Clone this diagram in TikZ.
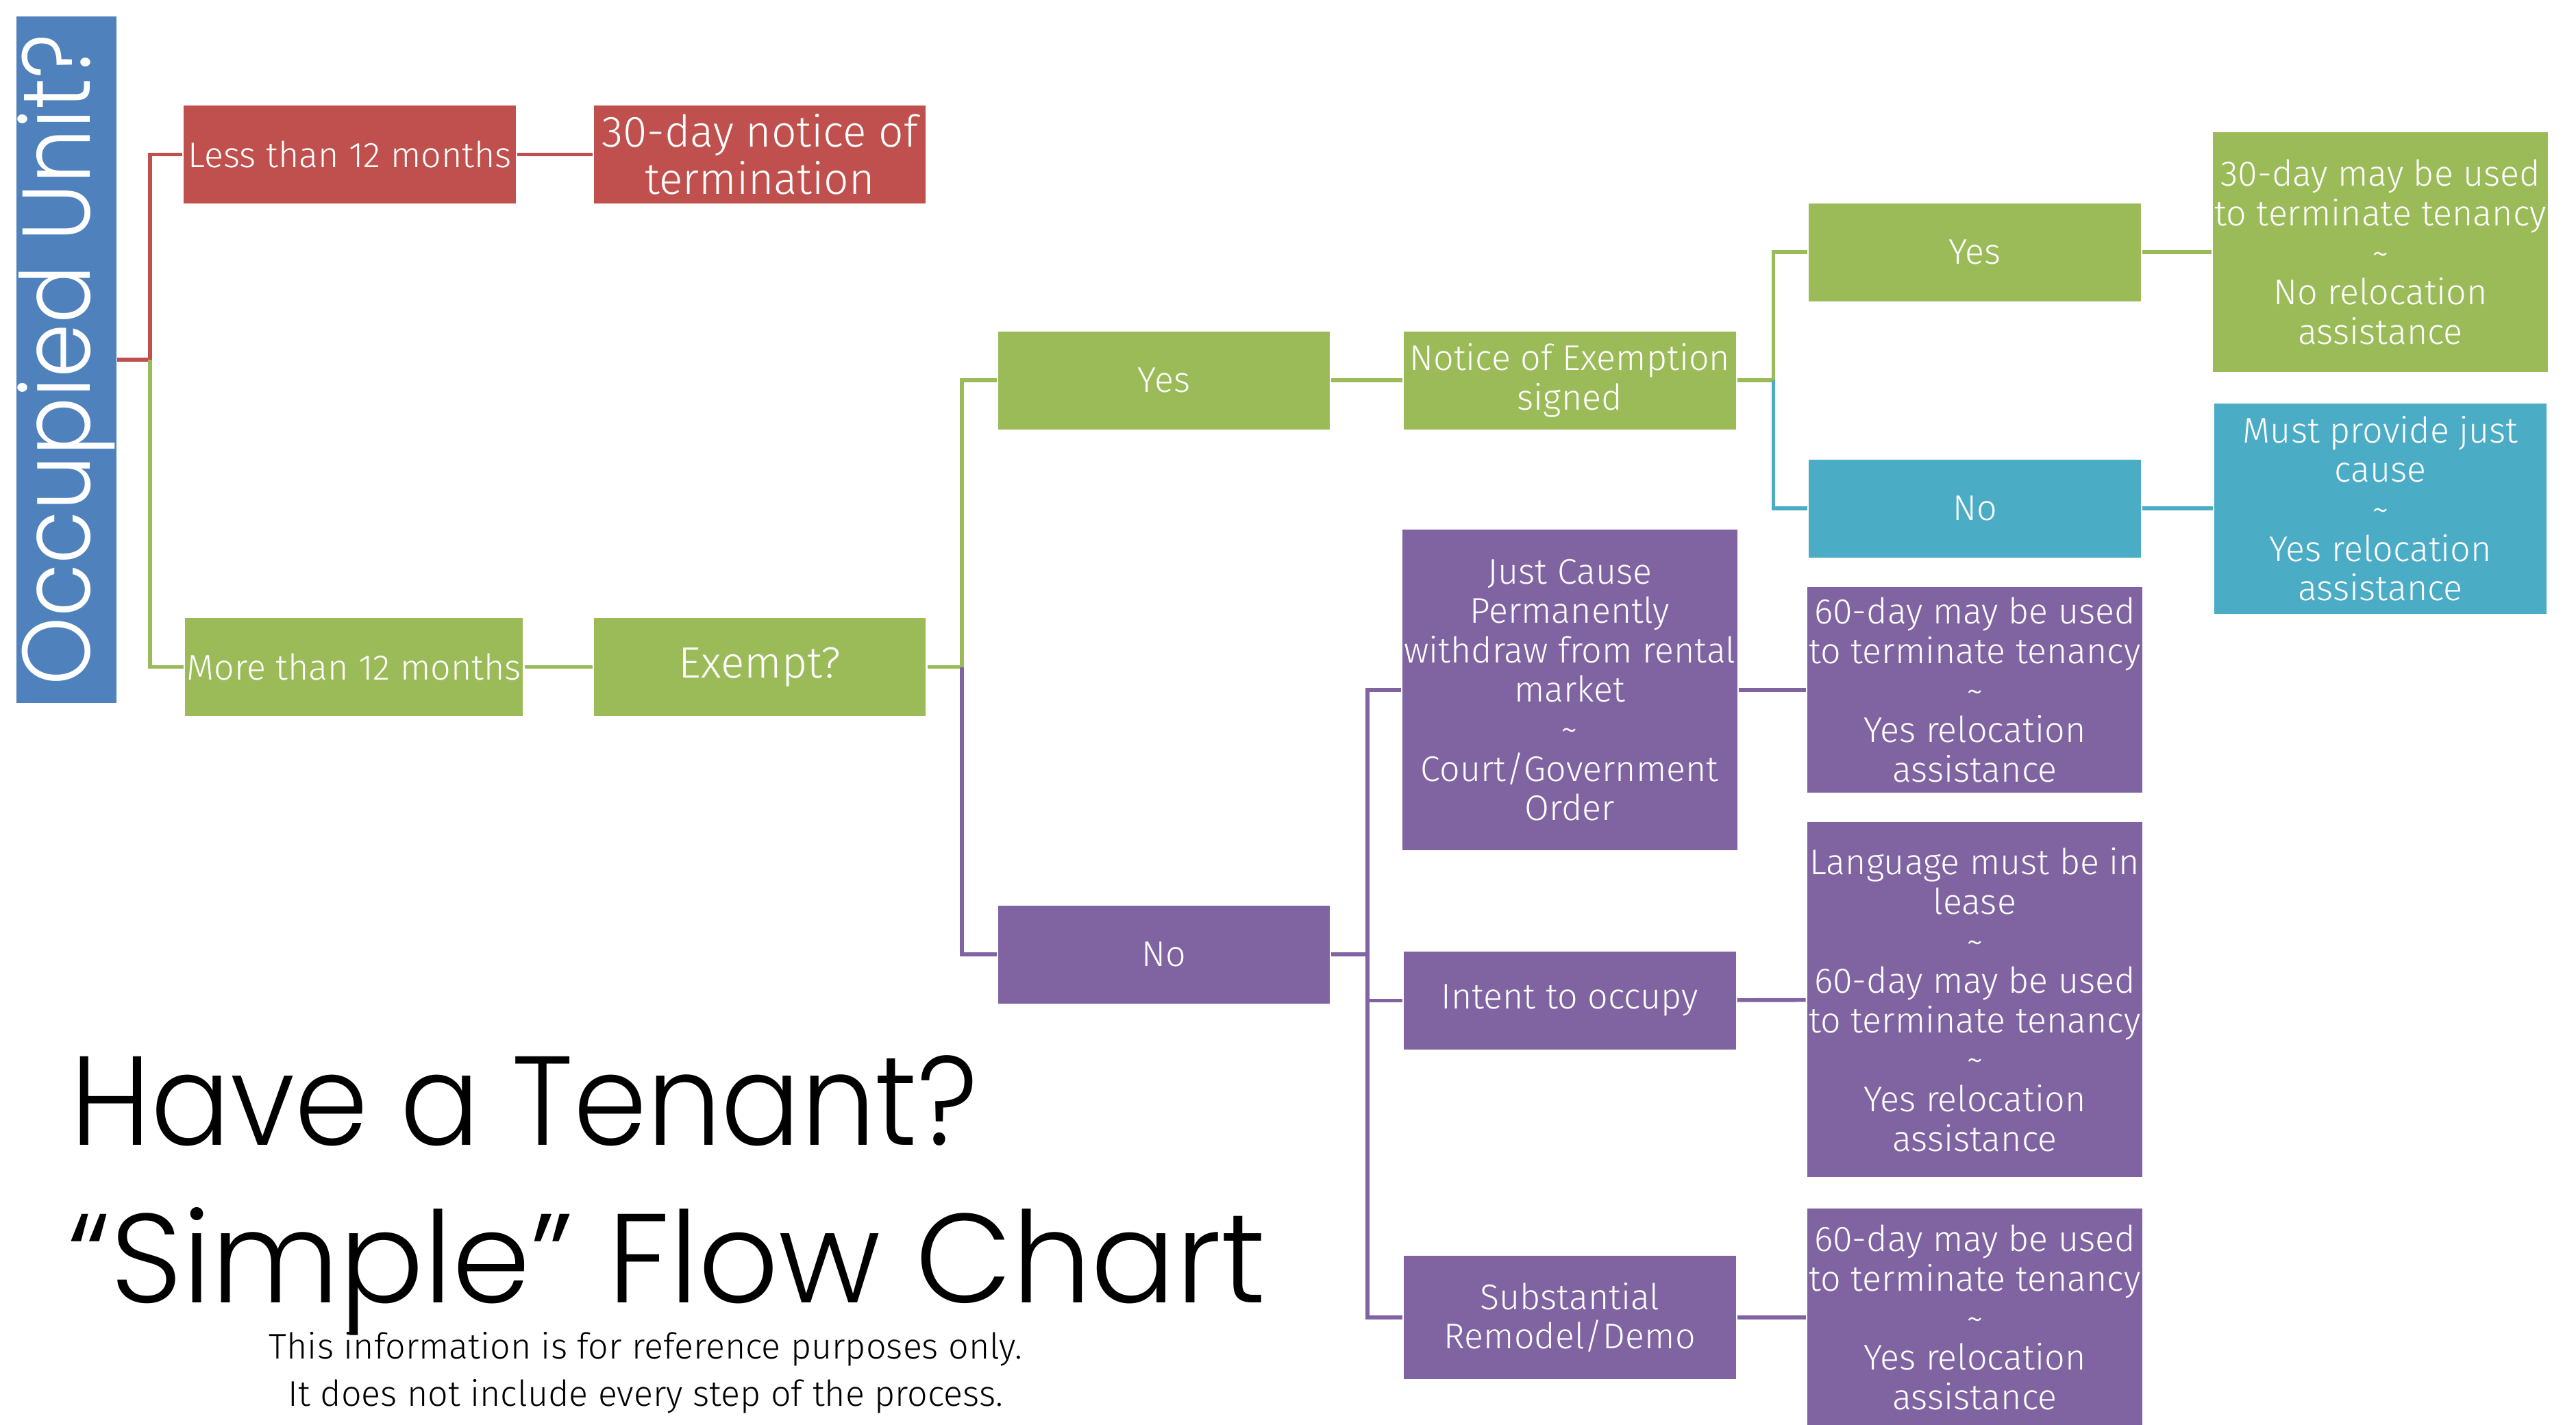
\documentclass[tikz,border=0pt]{standalone}
\usepackage{fontspec}
\setmainfont{Fira Sans}[UprightFont=* Light]
\newfontfamily\headfont{Poppins}[UprightFont=* Light,FakeStretch=0.93]
\newfontfamily\subheadfont{Poppins}[UprightFont=* Light,FakeStretch=0.99]
\newfontfamily\barfont{Poppins}[UprightFont=* Light,FakeStretch=0.9]
\definecolor{redbox}{HTML}{C0504D}
\definecolor{greenbox}{HTML}{9BBB59}
\definecolor{purplebox}{HTML}{8064A2}
\definecolor{bluebox}{HTML}{4BACC6}
\definecolor{barblue}{HTML}{4F81BD}
\newcommand{\pu}{0.2398mm}
\begin{document}
\begin{tikzpicture}
    [
    x=0.2398mm, y=-0.2398mm,
    box/.style={draw=white, line width=0.6pt, text=white, align=center, inner sep=1pt,
      minimum width=203*\pu, minimum height=60.5*\pu, font=\fontsize{14.8}{16.4}\selectfont},
    bigtext/.style={font=\fontsize{18.2}{19.8}\selectfont},
    red/.style={box, fill=redbox},
    green/.style={box, fill=greenbox},
    purple/.style={box, fill=purplebox},
    blue/.style={box, fill=bluebox},
    redline/.style={draw=redbox, line width=1.6pt},
    greenline/.style={draw=greenbox, line width=1.6pt},
    purpleline/.style={draw=purplebox, line width=1.6pt},
    blueline/.style={draw=bluebox, line width=1.6pt}
    ]
    \useasboundingbox (0,0) rectangle (1568,867);
    \node (occ) at (40.5,219) [fill=barblue, minimum width=61*\pu, minimum height=418*\pu, inner sep=0pt] {};
    \node at (occ.center) [rotate=90, text=white, inner sep=0pt, font=\barfont\fontsize{40}{44}\selectfont] {Occupied Unit?};
    \node (less) at (213,94) [red] {Less than 12 months};
    \node (notice30) at (462.5,94) [red, bigtext] {30-day notice of\\termination};
    \node (more) at (215.5,406) [green] {More than 12 months};
    \node (exempt) at (462.5,406) [green, bigtext] {Exempt?};
    \node (yes1) at (708.5,231.5) [green] {Yes};
    \node (no1) at (708.5,581) [purple] {No};
    \node (noe) at (955.5,231.5) [green] {Notice of Exemption\\signed};
    \node (yes2) at (1202,153.5) [green] {Yes};
    \node (no2) at (1202,309.5) [blue] {No};
    \node (res30) at (1449,153.5) [green, minimum height=147*\pu] {30-day may be used\\to terminate tenancy\\\textasciitilde\\No relocation\\assistance};
    \node (resjust) at (1449,309.5) [blue, minimum height=129*\pu] {Must provide just\\cause\\\textasciitilde\\Yes relocation\\assistance};
    \node (just) at (955.5,420) [purple, minimum height=196*\pu] {Just Cause\\Permanently\\withdraw from rental\\market\\\textasciitilde\\Court/Government\\Order};
    \node (intent) at (955.5,609) [purple] {Intent to occupy};
    \node (remodel) at (955.5,802) [purple, minimum height=76*\pu] {Substantial\\Remodel/Demo};
    \node (res60a) at (1202,420) [purple, minimum height=126*\pu] {60-day may be used\\to terminate tenancy\\\textasciitilde\\Yes relocation\\assistance};
    \node (reslang) at (1202,608.5) [purple, minimum height=217*\pu] {Language must be in\\lease\\\textasciitilde\\60-day may be used\\to terminate tenancy\\\textasciitilde\\Yes relocation\\assistance};
    \node (res60b) at (1202,802) [purple, minimum height=134*\pu] {60-day may be used\\to terminate tenancy\\\textasciitilde\\Yes relocation\\assistance};
    \draw [redline] (occ.east) -- ++(20,0) |- (less.west);
    \draw [greenline] (occ.east) ++(20,0) |- (more.west);
    \draw [redline] (less) -- (notice30);
    \draw [greenline] (more) -- (exempt);
    \draw [greenline] (exempt.east) -- ++(21,0) |- (yes1.west);
    \draw [purpleline] (exempt.east) ++(21,0) |- (no1.west);
    \draw [greenline] (yes1) -- (noe);
    \draw [greenline] (noe.east) -- ++(22,0) |- (yes2.west);
    \draw [blueline] (noe.east) ++(22,0) |- (no2.west);
    \draw [greenline] (yes2) -- (res30);
    \draw [blueline] (no2) -- (resjust);
    \foreach \a in {just,intent,remodel}
      \draw [purpleline] (no1.east) -- ++(22,0) |- (\a.west);
    \foreach \a/\b in {just/res60a,intent/reslang,remodel/res60b}
      \draw [purpleline] (\a) -- (\b);
    \node (title1) at (43,697) [anchor=base west, inner sep=0pt, font=\headfont\fontsize{52.6}{60}\selectfont] {Have a Tenant?};
    \node (title2) at (41,793) [anchor=base west, inner sep=0pt, font=\subheadfont\fontsize{52.6}{60}\selectfont] {“Simple” Flow Chart};
    \node (note1) at (393,827) [anchor=base, inner sep=0pt, font=\fontsize{14.8}{16}\selectfont] {This information is for reference purposes only.};
    \node (note2) at (393,856) [anchor=base, inner sep=0pt, font=\fontsize{14.8}{16}\selectfont] {It does not include every step of the process.};
\end{tikzpicture}
\end{document}
